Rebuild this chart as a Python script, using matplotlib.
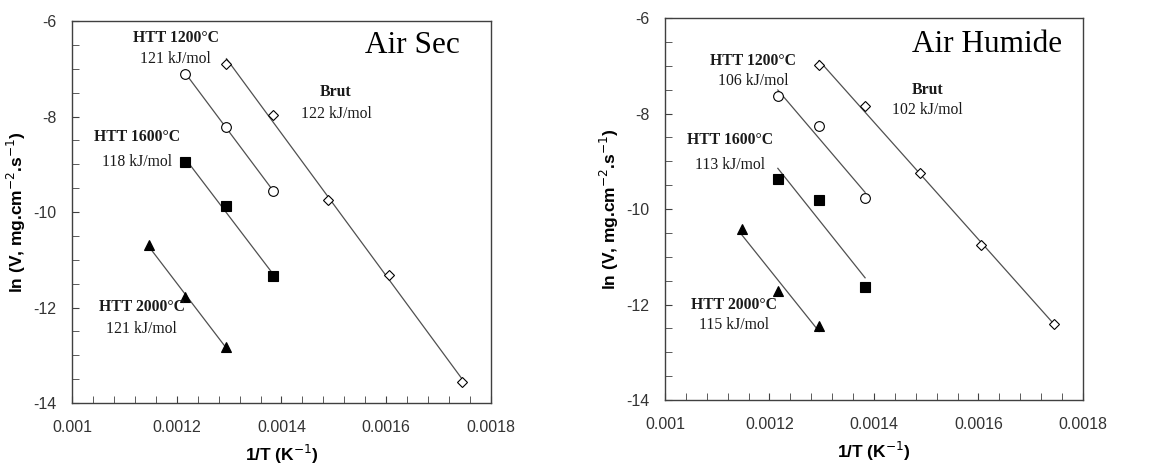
import numpy as np
from matplotlib import pyplot as plt
from matplotlib.ticker import MultipleLocator

plt.rcParams['axes.unicode_minus'] = False  # tirets simples sur les graduations

# données : 1/T (K-1) et ln(V)
x_brut = [0.001295, 0.001383, 0.001488, 0.001605, 0.001745]
x_htt = [0.001216, 0.001295, 0.001383]
x_2000 = [0.001147, 0.001216, 0.001295]

# Air sec
sec_brut = [-6.89, -7.96, -9.74, -11.32, -13.56]
sec_1200 = [-7.10, -8.22, -9.55]
sec_1600 = [-8.95, -9.88, -11.35]
sec_2000 = [-10.70, -11.77, -12.83]

# Air humide
hum_brut = [-6.98, -7.85, -9.25, -10.75, -12.41]
hum_1200 = [-7.64, -8.27, -9.77]
hum_1600 = [-9.37, -9.81, -11.64]
hum_2000 = [-10.42, -11.71, -12.46]

xticks = [0.001, 0.0012, 0.0014, 0.0016, 0.0018]
xtick_labels = ['0.001', '0.0012', '0.0014', '0.0016', '0.0018']
yticks = [-14, -12, -10, -8, -6]

titles = ['Air Sec', 'Air Humide']
energies = [['121 kJ/mol', '122 kJ/mol', '118 kJ/mol', '121 kJ/mol'],
            ['106 kJ/mol', '102 kJ/mol', '113 kJ/mol', '115 kJ/mol']]
# positions des étiquettes (coord. données)
label_pos = [
    [(0.001198, -6.35, -6.79), (0.001504, -7.49, -7.94), (0.001124, -8.42, -8.95), (0.001133, -11.99, -12.44)],
    [(0.001169, -6.89, -7.31), (0.001503, -7.50, -7.92), (0.001124, -8.55, -9.07), (0.001132, -12.01, -12.43)],
]
title_pos = [(0.00165, -6.51), (0.001616, -6.56)]
names = ['HTT 1200°C', 'Brut', 'HTT 1600°C', 'HTT 2000°C']

serif = ['Liberation Serif', 'DejaVu Serif']
sans = ['Liberation Sans', 'DejaVu Sans']
plt.rcParams['font.family'] = sans

fig = plt.figure(figsize=(11.66, 4.66), dpi=100)
axes = [fig.add_axes([0.0617, 0.1352, 0.3594, 0.8197]),
        fig.add_axes([0.5703, 0.1416, 0.3585, 0.8197])]

datasets = [[sec_brut, sec_1200, sec_1600, sec_2000],
            [hum_brut, hum_1200, hum_1600, hum_2000]]

for k, ax in enumerate(axes):
    brut, h12, h16, h20 = datasets[k]
    series = [(x_brut, brut, 'D', 'white', 5.5),
              (x_htt, h12, 'o', 'white', 7),
              (x_htt, h16, 's', 'black', 7),
              (x_2000, h20, '^', 'black', 7.5)]
    for xs, ys, m, fc, ms in series:
        xs = np.array(xs)
        p = np.polyfit(xs, ys, 1)
        xl = np.array([xs.min(), xs.max()])
        ax.plot(xl, np.polyval(p, xl), color='#505050', lw=0.9, zorder=2)
        ax.plot(xs, ys, linestyle='none', marker=m, markersize=ms,
                markerfacecolor=fc, markeredgecolor='black', markeredgewidth=0.8, zorder=3)

    for (x, y1, y2), name, en in zip(label_pos[k], names, energies[k]):
        ax.text(x, y1, name, family=serif, fontweight='bold', fontsize=11.3,
                ha='center', va='center', color='#1a1a1a')
        ax.text(x, y2, en, family=serif, fontsize=11.3, ha='center', va='center', color='#1a1a1a')
    ax.text(title_pos[k][0], title_pos[k][1], titles[k], family=serif, fontsize=22.5,
            ha='center', va='center', color='black')

    ax.set_xlim(0.001, 0.0018)
    ax.set_ylim(-14, -6)
    ax.set_xticks(xticks)
    ax.set_xticklabels(xtick_labels)
    ax.set_yticks(yticks)
    ax.xaxis.set_minor_locator(MultipleLocator(0.00004))
    ax.yaxis.set_minor_locator(MultipleLocator(0.5))
    ax.tick_params(which='both', direction='in', color='#404040', labelsize=11.5,
                   labelcolor='#333333')
    ax.tick_params(axis='x', pad=12)
    ax.tick_params(axis='y', pad=11)
    ax.tick_params(which='major', length=5)
    ax.tick_params(which='minor', length=5)
    for s in ax.spines.values():
        s.set_color('#404040')
        s.set_linewidth(1.0)
    ax.set_xlabel('1/T (K$^{-1}$)', fontweight='bold', fontsize=12.5, labelpad=6)
    ax.set_ylabel('ln (V, mg.cm$^{-2}$.s$^{-1}$)', fontweight='bold', fontsize=12.5, labelpad=4)

plt.savefig('out.png')
